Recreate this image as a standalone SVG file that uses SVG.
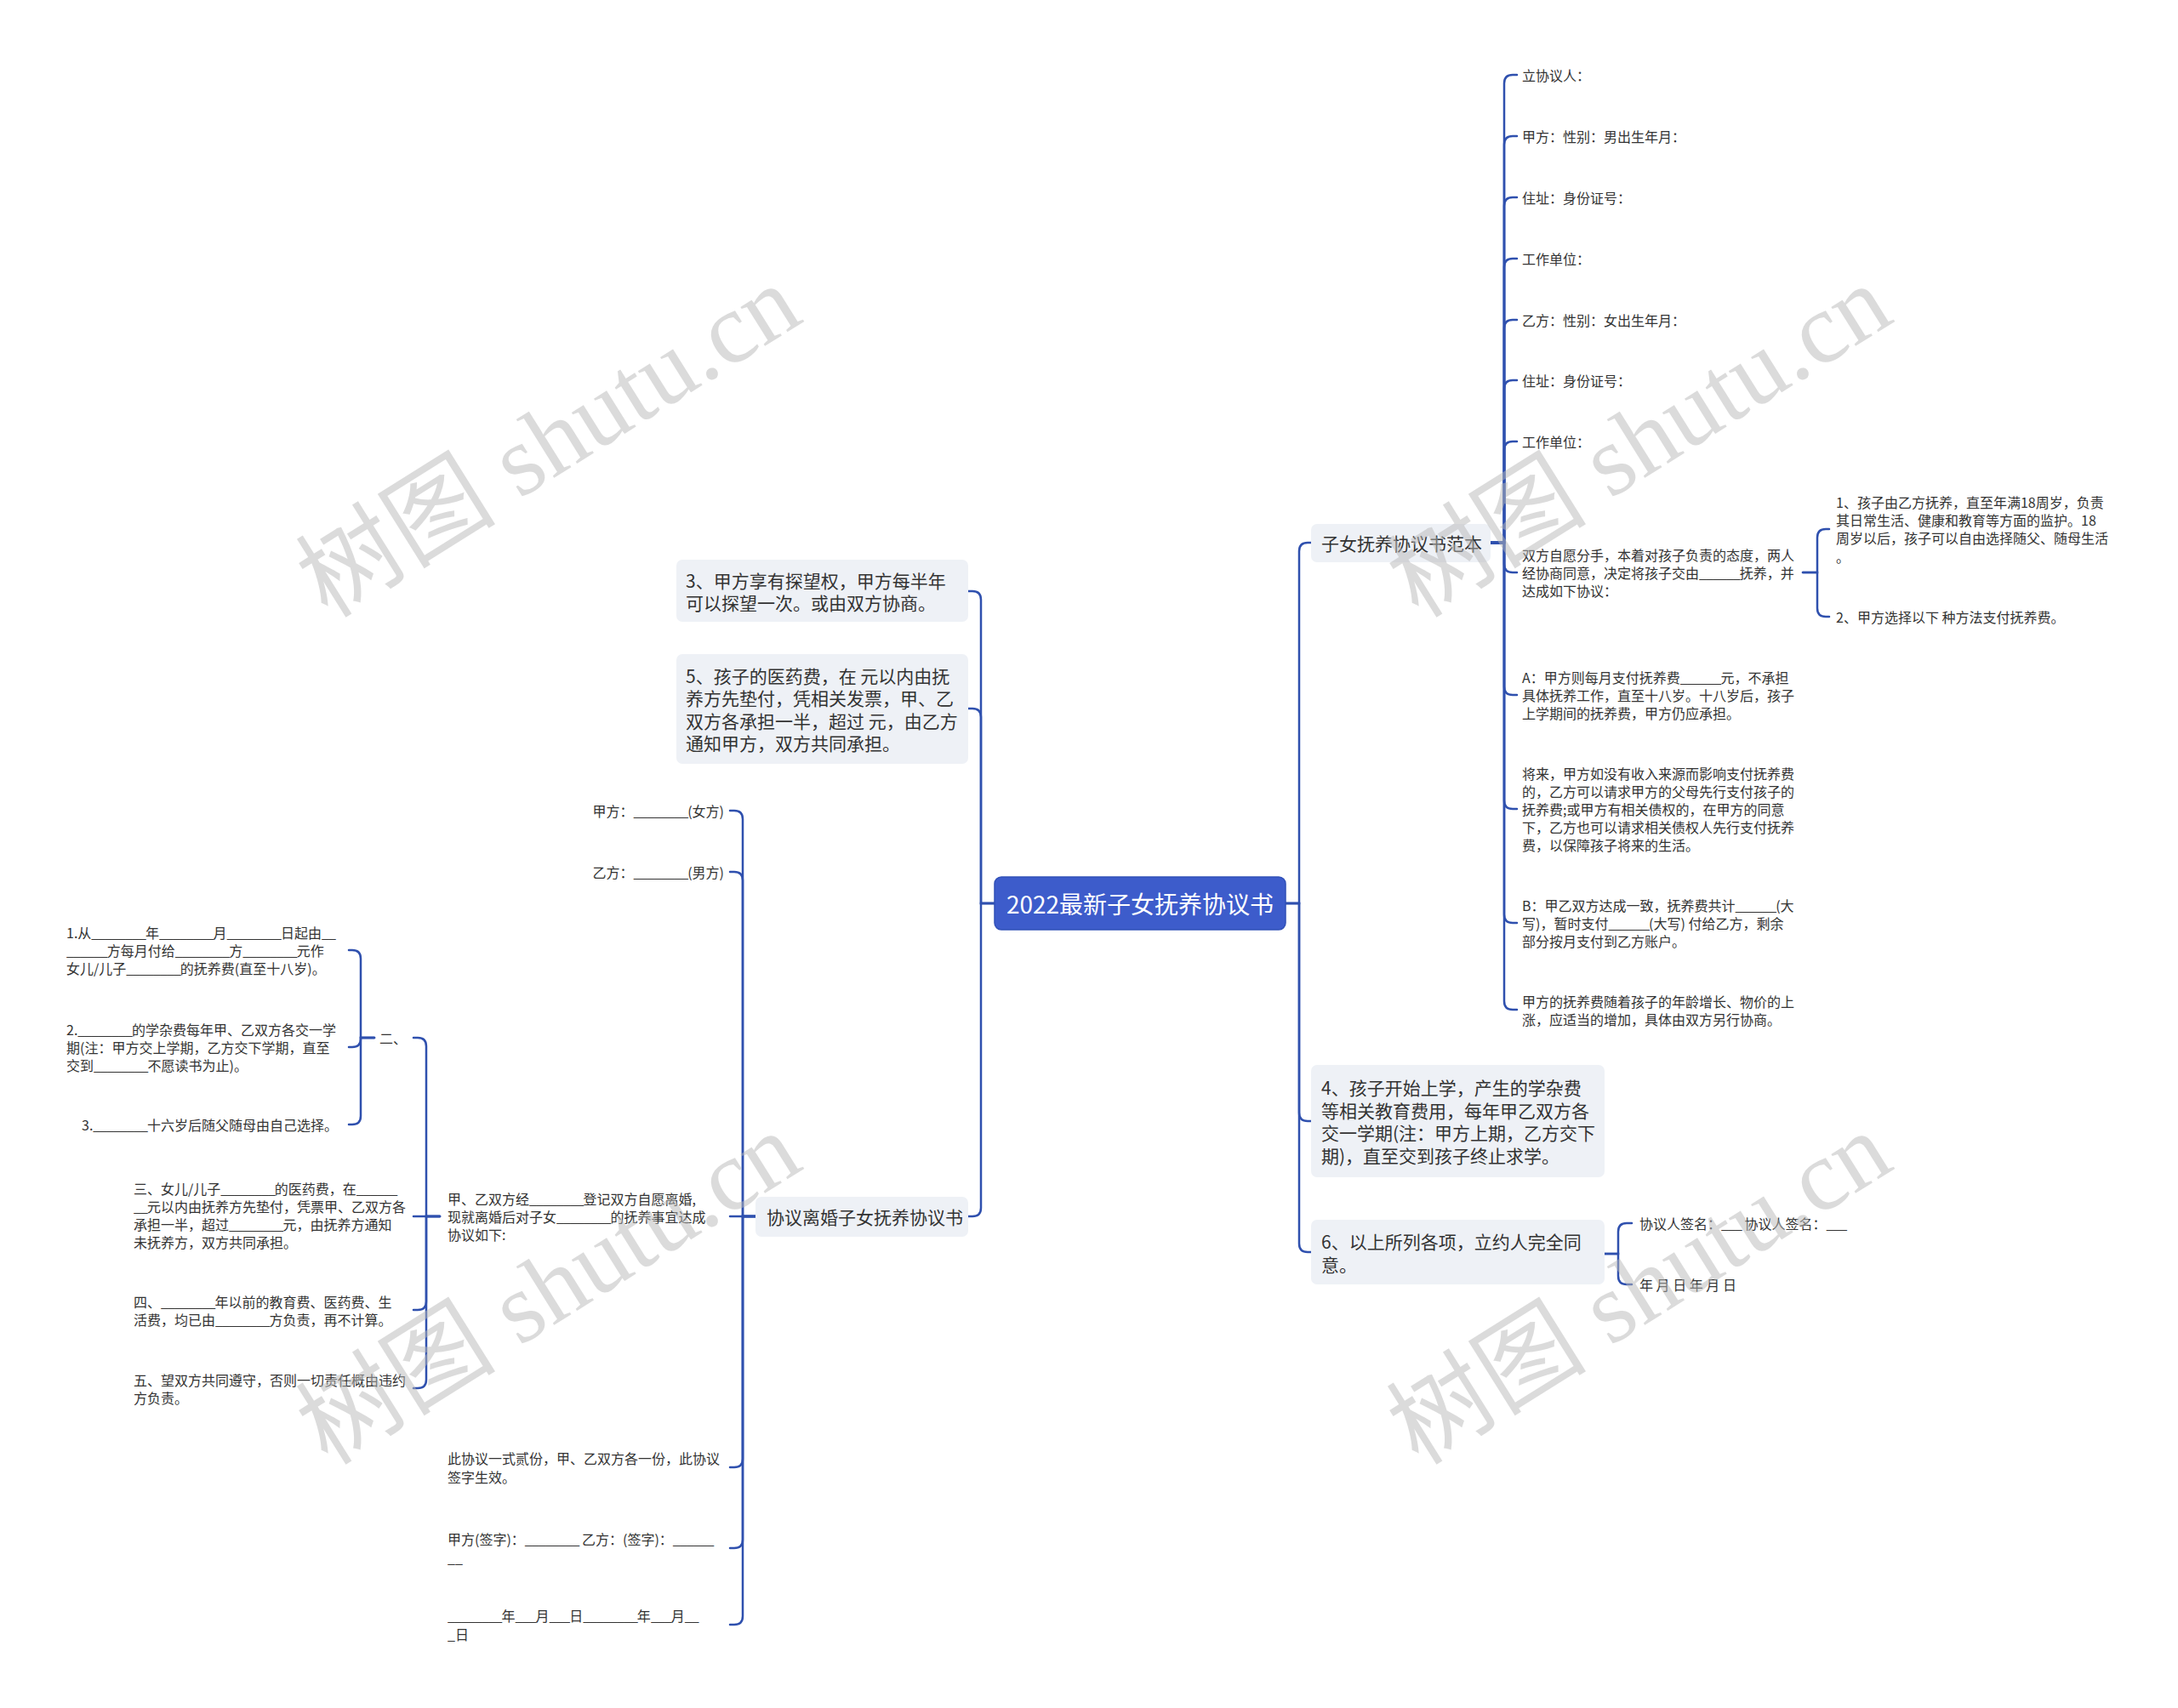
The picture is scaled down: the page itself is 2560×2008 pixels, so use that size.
<svg xmlns="http://www.w3.org/2000/svg" width="2560" height="2008" viewBox="0 0 2560 2008">
<style>
.t{font-family:"Noto Sans CJK SC","Noto Sans",sans-serif;fill:#333;dominant-baseline:central}
.b{font-size:21px}
.s{font-size:16px}
.u{letter-spacing:-1px}
.box{fill:#eef1f6}
.e{fill:none;stroke:#2f50ae;stroke-width:2.5;stroke-linecap:round}
.wm{font-family:"Liberation Serif","Noto Sans CJK SC",serif;font-size:118px;fill:#b8b8b8;fill-opacity:0.5}
</style>
<rect width="2560" height="2008" fill="#fff"/>
<g id="connectors">
<path class="e" d="M1511,1062 H1527 V648 Q1527,638 1537,638 H1541"/>
<path class="e" d="M1511,1062 H1527 V1308 Q1527,1318 1537,1318 H1541"/>
<path class="e" d="M1511,1062 H1527 V1462 Q1527,1472 1537,1472 H1541"/>
<path class="e" d="M1752,638 H1768 V98 Q1768,88 1778,88 H1783"/>
<path class="e" d="M1752,638 H1768 V170 Q1768,160 1778,160 H1783"/>
<path class="e" d="M1752,638 H1768 V242 Q1768,232 1778,232 H1783"/>
<path class="e" d="M1752,638 H1768 V314 Q1768,304 1778,304 H1783"/>
<path class="e" d="M1752,638 H1768 V386 Q1768,376 1778,376 H1783"/>
<path class="e" d="M1752,638 H1768 V457 Q1768,447 1778,447 H1783"/>
<path class="e" d="M1752,638 H1768 V529 Q1768,519 1778,519 H1783"/>
<path class="e" d="M1752,638 H1768 V663 Q1768,673 1778,673 H1783"/>
<path class="e" d="M1752,638 H1768 V807 Q1768,817 1778,817 H1783"/>
<path class="e" d="M1752,638 H1768 V941 Q1768,951 1778,951 H1783"/>
<path class="e" d="M1752,638 H1768 V1075 Q1768,1085 1778,1085 H1783"/>
<path class="e" d="M1752,638 H1768 V1177 Q1768,1187 1778,1187 H1783"/>
<path class="e" d="M2119,673 H2136 V632 Q2136,622 2146,622 H2150"/>
<path class="e" d="M2119,673 H2136 V715 Q2136,725 2146,725 H2150"/>
<path class="e" d="M1886,1474 H1902 V1448 Q1902,1438 1912,1438 H1918"/>
<path class="e" d="M1886,1474 H1902 V1500 Q1902,1510 1912,1510 H1918"/>
<path class="e" d="M1169,1062 H1153 V705 Q1153,695 1143,695 H1138"/>
<path class="e" d="M1169,1062 H1153 V843 Q1153,833 1143,833 H1138"/>
<path class="e" d="M1169,1062 H1153 V1420 Q1153,1430 1143,1430 H1138"/>
<path class="e" d="M888,1430 H873 V963 Q873,953 863,953 H858"/>
<path class="e" d="M888,1430 H873 V1035 Q873,1025 863,1025 H858"/>
<path class="e" d="M888,1430 H858"/>
<path class="e" d="M888,1430 H873 V1715 Q873,1725 863,1725 H858"/>
<path class="e" d="M888,1430 H873 V1810 Q873,1820 863,1820 H858"/>
<path class="e" d="M888,1430 H873 V1900 Q873,1910 863,1910 H858"/>
<path class="e" d="M517,1430 H501 V1230 Q501,1220 491,1220 H486"/>
<path class="e" d="M517,1430 H486"/>
<path class="e" d="M517,1430 H501 V1530 Q501,1540 491,1540 H486"/>
<path class="e" d="M517,1430 H501 V1622 Q501,1632 491,1632 H486"/>
<path class="e" d="M440,1220 H424 V1127 Q424,1117 414,1117 H410"/>
<path class="e" d="M440,1220 H424 V1221 Q424,1231 414,1231 H410"/>
<path class="e" d="M440,1220 H424 V1312 Q424,1322 414,1322 H410"/>
</g>
<g id="root">
<rect x="1169" y="1031" width="342" height="62" rx="8" fill="#3d5ccb" stroke="#3050b8" stroke-width="1.5"/>
<text class="t" x="1340" y="1062" text-anchor="middle" style="font-size:28px;fill:#fff">2022最新子女抚养协议书</text>
</g>
<g id="n-fanben">
<rect class="box" x="1541" y="616" width="211" height="45" rx="7"/>
<text class="t b" x="1553" y="638">子女抚养协议书范本</text>
</g>
<g id="n-lixieyiren"><text class="t s" x="1789" y="88">立协议人：</text></g>
<g id="n-jiafang"><text class="t s" x="1789" y="160">甲方：性别：男出生年月：</text></g>
<g id="n-zhuzhi1"><text class="t s" x="1789" y="232">住址：身份证号：</text></g>
<g id="n-danwei1"><text class="t s" x="1789" y="304">工作单位：</text></g>
<g id="n-yifang"><text class="t s" x="1789" y="376">乙方：性别：女出生年月：</text></g>
<g id="n-zhuzhi2"><text class="t s" x="1789" y="447">住址：身份证号：</text></g>
<g id="n-danwei2"><text class="t s" x="1789" y="519">工作单位：</text></g>
<g id="n-shuangfang">
<text class="t s"><tspan x="1789" y="652">双方自愿分手，本着对孩子负责的态度，两人</tspan><tspan x="1789" y="673">经协商同意，决定将孩子交由<tspan class="u">______</tspan>抚养，并</tspan><tspan x="1789" y="694">达成如下协议：</tspan></text>
</g>
<g id="n-A">
<text class="t s"><tspan x="1789" y="796">A：甲方则每月支付抚养费<tspan class="u">______</tspan>元，不承担</tspan><tspan x="1789" y="817">具体抚养工作，直至十八岁。十八岁后，孩子</tspan><tspan x="1789" y="838">上学期间的抚养费，甲方仍应承担。</tspan></text>
</g>
<g id="n-jianglai">
<text class="t s"><tspan x="1789" y="909">将来，甲方如没有收入来源而影响支付抚养费</tspan><tspan x="1789" y="930">的，乙方可以请求甲方的父母先行支付孩子的</tspan><tspan x="1789" y="951">抚养费;或甲方有相关债权的，在甲方的同意</tspan><tspan x="1789" y="972">下，乙方也可以请求相关债权人先行支付抚养</tspan><tspan x="1789" y="993">费，以保障孩子将来的生活。</tspan></text>
</g>
<g id="n-B">
<text class="t s"><tspan x="1789" y="1064">B：甲乙双方达成一致，抚养费共计<tspan class="u">______</tspan>(大</tspan><tspan x="1789" y="1085">写)，暂时支付<tspan class="u">______</tspan>(大写) 付给乙方，剩余</tspan><tspan x="1789" y="1106">部分按月支付到乙方账户。</tspan></text>
</g>
<g id="n-suizhe">
<text class="t s"><tspan x="1789" y="1177">甲方的抚养费随着孩子的年龄增长、物价的上</tspan><tspan x="1789" y="1198">涨，应适当的增加，具体由双方另行协商。</tspan></text>
</g>
<g id="n-sub1">
<text class="t s"><tspan x="2158" y="590">1、孩子由乙方抚养，直至年满18周岁，负责</tspan><tspan x="2158" y="611">其日常生活、健康和教育等方面的监护。18</tspan><tspan x="2158" y="632">周岁以后，孩子可以自由选择随父、随母生活</tspan><tspan x="2158" y="654">。</tspan></text>
</g>
<g id="n-sub2"><text class="t s" x="2158" y="725">2、甲方选择以下 种方法支付抚养费。</text></g>
<g id="n-4">
<rect class="box" x="1541" y="1252" width="345" height="132" rx="7"/>
<text class="t b"><tspan x="1553" y="1278">4、孩子开始上学，产生的学杂费</tspan><tspan x="1553" y="1305">等相关教育费用，每年甲乙双方各</tspan><tspan x="1553" y="1331">交一学期(注：甲方上期，乙方交下</tspan><tspan x="1553" y="1358">期)，直至交到孩子终止求学。</tspan></text>
</g>
<g id="n-6">
<rect class="box" x="1541" y="1434" width="345" height="76" rx="7"/>
<text class="t b"><tspan x="1553" y="1459">6、以上所列各项，立约人完全同</tspan><tspan x="1553" y="1486">意。</tspan></text>
</g>
<g id="n-qianming"><text class="t s" x="1927" y="1438">协议人签名：<tspan class="u">___</tspan> 协议人签名：<tspan class="u">___</tspan></text></g>
<g id="n-nianyueri"><text class="t s" x="1927" y="1510">年 月 日 年 月 日</text></g>
<g id="n-3">
<rect class="box" x="795" y="658" width="343" height="73" rx="7"/>
<text class="t b"><tspan x="806" y="682">3、甲方享有探望权，甲方每半年</tspan><tspan x="806" y="708">可以探望一次。或由双方协商。</tspan></text>
</g>
<g id="n-5">
<rect class="box" x="795" y="769" width="343" height="129" rx="7"/>
<text class="t b"><tspan x="806" y="794">5、孩子的医药费，在 元以内由抚</tspan><tspan x="806" y="820">养方先垫付，凭相关发票，甲、乙</tspan><tspan x="806" y="847">双方各承担一半，超过 元，由乙方</tspan><tspan x="806" y="873">通知甲方，双方共同承担。</tspan></text>
</g>
<g id="n-lihun">
<rect class="box" x="888" y="1407" width="250" height="47" rx="7"/>
<text class="t b" x="901" y="1430">协议离婚子女抚养协议书</text>
</g>
<g id="n-jia"><text class="t s" x="851" y="953" text-anchor="end">甲方：<tspan class="u">________</tspan>(女方)</text></g>
<g id="n-yi"><text class="t s" x="851" y="1025" text-anchor="end">乙方：<tspan class="u">________</tspan>(男方)</text></g>
<g id="n-jiayi">
<text class="t s"><tspan x="526" y="1409">甲、乙双方经<tspan class="u">________</tspan>登记双方自愿离婚,</tspan><tspan x="526" y="1430">现就离婚后对子女<tspan class="u">________</tspan>的抚养事宜达成</tspan><tspan x="526" y="1451">协议如下:</tspan></text>
</g>
<g id="n-yishi">
<text class="t s"><tspan x="526" y="1714">此协议一式贰份，甲、乙双方各一份，此协议</tspan><tspan x="526" y="1736">签字生效。</tspan></text>
</g>
<g id="n-qianzi">
<text class="t s"><tspan x="526" y="1809">甲方(签字)：<tspan class="u">________</tspan> 乙方：(签字)：<tspan class="u">______</tspan></tspan><tspan x="526" y="1831">__</tspan></text>
</g>
<g id="n-riqi">
<text class="t s"><tspan x="526" y="1899"><tspan class="u">________</tspan>年<tspan class="u">___</tspan>月<tspan class="u">___</tspan>日<tspan class="u">________</tspan>年<tspan class="u">___</tspan>月<tspan class="u">__</tspan></tspan><tspan x="526" y="1921">_日</tspan></text>
</g>
<g id="n-er"><text class="t s" x="446" y="1220">二、</text></g>
<g id="n-er1">
<text class="t s"><tspan x="78" y="1096">1.从<tspan class="u">________</tspan>年<tspan class="u">________</tspan>月<tspan class="u">________</tspan>日起由<tspan class="u">__</tspan></tspan><tspan x="78" y="1117"><tspan class="u">______</tspan>方每月付给<tspan class="u">________</tspan>方<tspan class="u">________</tspan>元作</tspan><tspan x="78" y="1138">女儿/儿子<tspan class="u">________</tspan>的抚养费(直至十八岁)。</tspan></text>
</g>
<g id="n-er2">
<text class="t s"><tspan x="78" y="1210">2.<tspan class="u">________</tspan>的学杂费每年甲、乙双方各交一学</tspan><tspan x="78" y="1231">期(注：甲方交上学期，乙方交下学期，直至</tspan><tspan x="78" y="1252">交到<tspan class="u">________</tspan>不愿读书为止)。</tspan></text>
</g>
<g id="n-er3"><text class="t s" x="96" y="1322">3.<tspan class="u">________</tspan>十六岁后随父随母由自己选择。</text></g>
<g id="n-san">
<text class="t s"><tspan x="157" y="1397">三、女儿/儿子<tspan class="u">________</tspan>的医药费，在<tspan class="u">______</tspan></tspan><tspan x="157" y="1418"><tspan class="u">__</tspan>元以内由抚养方先垫付，凭票甲、乙双方各</tspan><tspan x="157" y="1439">承担一半，超过<tspan class="u">________</tspan>元，由抚养方通知</tspan><tspan x="157" y="1460">未抚养方，双方共同承担。</tspan></text>
</g>
<g id="n-si">
<text class="t s"><tspan x="157" y="1530">四、<tspan class="u">________</tspan>年以前的教育费、医药费、生</tspan><tspan x="157" y="1551">活费，均已由<tspan class="u">________</tspan>方负责，再不计算。</tspan></text>
</g>
<g id="n-wu">
<text class="t s"><tspan x="157" y="1622">五、望双方共同遵守，否则一切责任概由违约</tspan><tspan x="157" y="1643">方负责。</tspan></text>
</g>
<g id="watermarks">
<text class="wm" x="645" y="519" text-anchor="middle" dominant-baseline="central" transform="rotate(-32 645 519)">树图 shutu.cn</text>
<text class="wm" x="1927" y="519" text-anchor="middle" dominant-baseline="central" transform="rotate(-32 1927 519)">树图 shutu.cn</text>
<text class="wm" x="645" y="1515" text-anchor="middle" dominant-baseline="central" transform="rotate(-32 645 1515)">树图 shutu.cn</text>
<text class="wm" x="1927" y="1515" text-anchor="middle" dominant-baseline="central" transform="rotate(-32 1927 1515)">树图 shutu.cn</text>
</g>
</svg>
